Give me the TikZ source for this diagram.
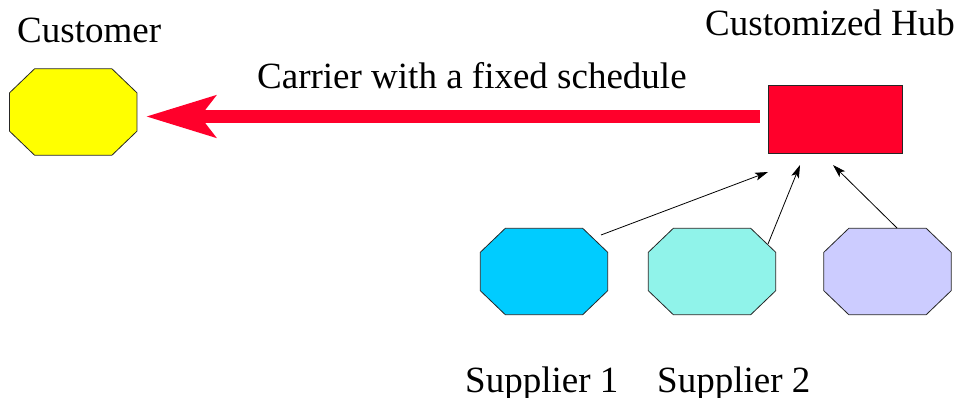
\documentclass[tikz,border=0pt]{standalone}
\usepackage{fontspec}
\setmainfont{Liberation Serif}
\newfontfamily\timesfont{Liberation Serif}
\usetikzlibrary{arrows.meta,calc}
\definecolor{hubred}{RGB}{255,0,43}
\definecolor{custyellow}{RGB}{255,255,0}
\definecolor{supblue}{RGB}{0,204,255}
\definecolor{supaqua}{RGB}{144,243,234}
\definecolor{suplav}{RGB}{204,204,255}
\tikzset{
  octbox/.style={inner sep=0pt, minimum width=127pt, minimum height=86pt},
  octline/.style={draw=black!85, line width=0.8pt, line join=miter},
  lbl/.style={anchor=base west, inner sep=0pt, font=\timesfont\fontsize{37}{40}\selectfont},
  bigarrow/.style={draw=hubred, line width=13pt,
    -{Stealth[length=69pt, width=41pt, inset=15pt, fill=hubred]}},
  thinarrow/.style={draw=black, line width=0.8pt,
    -{Stealth[length=13pt, width=8pt, inset=3pt]}}
}
% octagon drawn on the border of a named node
\newcommand{\octagonof}[2]{%
  \fill[#2] ($(#1.north west)+(25,0)$) -- ($(#1.north east)+(-25,0)$) -- ($(#1.north east)+(0,24)$)
    -- ($(#1.south east)+(0,-24)$) -- ($(#1.south east)+(-25,0)$) -- ($(#1.south west)+(25,0)$)
    -- ($(#1.south west)+(0,-24)$) -- ($(#1.north west)+(0,24)$) -- cycle;
  \draw[octline] ($(#1.north west)+(25,0)$) -- ($(#1.north east)+(-25,0)$) -- ($(#1.north east)+(0,24)$)
    -- ($(#1.south east)+(0,-24)$) -- ($(#1.south east)+(-25,0)$) -- ($(#1.south west)+(25,0)$)
    -- ($(#1.south west)+(0,-24)$) -- ($(#1.north west)+(0,24)$) -- cycle;}
\begin{document}
\begin{tikzpicture}[x=1pt,y=-1pt]
\useasboundingbox (0,0) rectangle (958,397);
\node[octbox] (cust) at (73.25,112) {};
\node[octbox] (s1) at (544,271.5) {};
\node[octbox] (s2) at (712,271.5) {};
\node[octbox] (s3) at (887.5,271.5) {};
\octagonof{cust}{custyellow}
\octagonof{s1}{supblue}
\octagonof{s2}{supaqua}
\octagonof{s3}{suplav}
\node[draw=black!85, line width=0.8pt, fill=hubred, minimum width=134pt, minimum height=68pt, inner sep=0pt] (hub) at (835,119) {};
\node[lbl] (tcust) at (17,42) {Customer};
\node[lbl] (thub) at (705,35) {Customized Hub};
\node[lbl] (tcar) at (257,88) {Carrier with a fixed schedule};
\node[lbl] (ts1) at (465,392) {Supplier 1};
\node[lbl] (ts2) at (657,392) {Supplier 2};
\draw[bigarrow] ($(hub.west)+(-8,-2.5)$) -- ($(cust.east)+(9,4.5)$);
\draw[thinarrow] ($(s1)+(57,-36.5)$) -- ($(hub)+(-67,53)$);
\draw[thinarrow] ($(s2)+(56,-27.5)$) -- ($(hub)+(-35,46)$);
\draw[thinarrow] ($(s3)+(9.5,-43.5)$) -- ($(hub)+(-2,46)$);
\end{tikzpicture}
\end{document}
